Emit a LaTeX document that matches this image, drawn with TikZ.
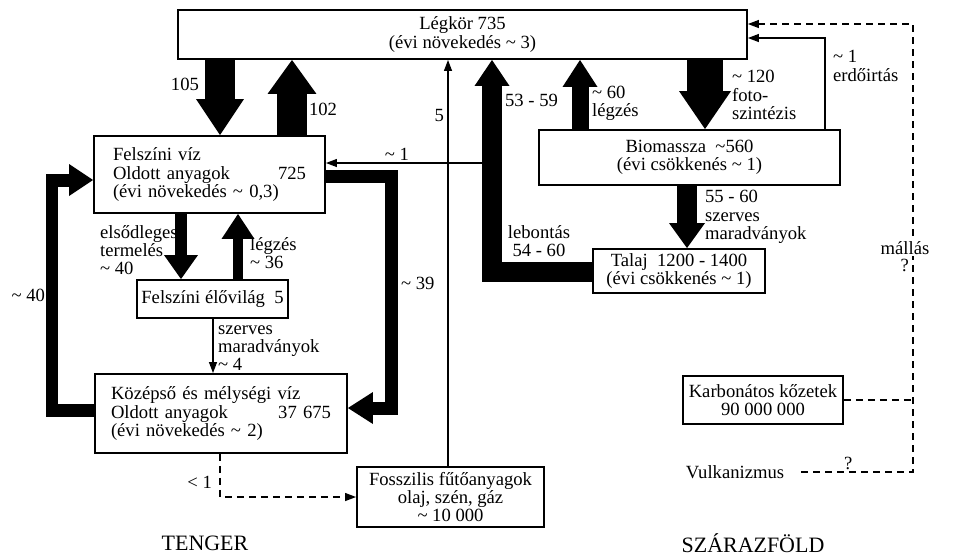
\documentclass[tikz,border=0pt]{standalone}
\usepackage{fontspec}
\setmainfont{Liberation Serif}
\usetikzlibrary{arrows.meta,positioning,calc}

\begin{document}
\begin{tikzpicture}[
  x=0.02cm, y=-0.02cm,
  font=\fontsize{10.6}{10.4}\selectfont,
  box/.style={draw, rectangle, line width=1.1pt, inner sep=0pt, align=center},
  flow/.style n args={3}{line width=#1, line join=miter,
              -{Triangle[width=#2, length=#3, line width=0pt]}},
  link/.style={line width=0.7pt, -{Triangle[length=0.22cm, width=0.16cm]}},
  dashlink/.style={link, dash pattern=on 0.14cm off 0.1cm},
  dashline/.style={line width=0.7pt, dash pattern=on 0.14cm off 0.1cm},
  lbl/.style={inner sep=1pt, align=left},
  region/.style={font=\fontsize{12.5}{13}\selectfont}
]
\useasboundingbox (0,0) rectangle (953,556);

% Reservoirs
\node[box, minimum width=11.38cm, minimum height=0.98cm] (atm) at (462.5,34.5)
  {Légkör 735\\(évi növekedés \textasciitilde{} 3)};
\node[box, minimum width=4.62cm, minimum height=1.54cm, text width=3.86cm, align=left] (surf) at (209.5,174.5)
  {Felszíni víz\\Oldott anyagok\hfill 725\\(évi növekedés \textasciitilde{} 0,3)};
\node[box, minimum width=3.02cm, minimum height=0.76cm] (biota) at (212.5,299)
  {Felszíni élővilág\ \ 5};
\node[box, minimum width=5.04cm, minimum height=1.58cm, text width=4.4cm, align=left] (deep) at (221,413.5)
  {Középső és mélységi víz\\Oldott anyagok\hfill 37 675\\(évi növekedés \textasciitilde{} 2)};
\node[box, minimum width=3.74cm, minimum height=1.2cm] (fossil) at (450.5,497)
  {Fosszilis fűtőanyagok\\olaj, szén, gáz\\\textasciitilde{} 10 000};
\node[box, minimum width=6.02cm, minimum height=1.1cm] (bio) at (689.5,157.5)
  {Biomassza\ \ \textasciitilde560\\(évi csökkenés \textasciitilde{} 1)};
\node[box, minimum width=3.44cm, minimum height=0.88cm] (soil) at (679,271)
  {Talaj\ \ 1200 - 1400\\(évi csökkenés \textasciitilde{} 1)};
\node[box, minimum width=3.2cm, minimum height=0.96cm] (carb) at (763,400)
  {Karbonátos kőzetek\\90 000 000};
\node[inner sep=1pt] (vulk) at (735,472) {Vulkanizmus};

% Ocean fluxes
\draw[flow={0.6cm}{0.96cm}{0.72cm}] (atm.south -| 220,0) -- (surf.north -| 220,0);
\draw[flow={0.6cm}{0.98cm}{0.68cm}] (surf.north -| 292,0) -- (atm.south -| 292,0);
\draw[flow={0.24cm}{0.68cm}{0.48cm}] (surf.south -| 181,0) -- (biota.north -| 181,0);
\draw[flow={0.2cm}{0.66cm}{0.5cm}] (biota.north -| 238,0) -- (surf.south -| 238,0);
\draw[flow={0.26cm}{0.64cm}{0.48cm}] (0,410 -| deep.west) -| (52,180) -- (0,180 -| surf.west);
\draw[flow={0.26cm}{0.64cm}{0.5cm}] (0,176 -| surf.east) -| (391,408) -- (0,408 -| deep.east);
\draw[link] (biota.south -| 213,0) -- (deep.north -| 213,0);
\draw[dashlink] (deep.south -| 220,0) |- (fossil.west);
\draw[link] (fossil.north -| 448,0) -- (atm.south -| 448,0);

% Land fluxes
\draw[flow={0.4cm}{0.7cm}{0.52cm}] (0,272 -| soil.west) -| (atm.south -| 492,0);
\draw[flow={0.34cm}{0.7cm}{0.54cm}] (bio.north -| 580,0) -- (atm.south -| 580,0);
\draw[flow={0.72cm}{1.04cm}{0.76cm}] (atm.south -| 705,0) -- (bio.north -| 705,0);
\draw[flow={0.4cm}{0.72cm}{0.5cm}] (bio.south -| 687,0) -- (soil.north -| 687,0);
\coordinate (runoff) at (483,163);
\draw[link] (runoff) -- (runoff -| surf.east);
\draw[link] (bio.north -| 825,0) |- (0,38 -| atm.east);

% Weathering and volcanism
\draw[dashline] (carb.east) -- (carb.east -| 913,0);
\draw[dashlink] ([xshift=0.3cm]vulk.east) -| node[pos=0.21, above, inner sep=1pt] {?}
  node[pos=0.73, left, inner sep=2pt] {?}
  node[pos=0.75, fill=white, inner sep=1pt, xshift=-0.16cm] {mállás} (913,24) -- (0,24 -| atm.east);

% Flux labels
\node[lbl, anchor=east] (l105) at (201,84) {105};
\node[lbl, anchor=west] (l102) at (307,109) {102};
\node[lbl, anchor=east] (l40) at (47,295) {\textasciitilde{} 40};
\node[lbl, anchor=west] (l39) at (399,283) {\textasciitilde{} 39};
\node[lbl, anchor=west] (lprod) at (98,250) {elsődleges\\termelés\\\textasciitilde{} 40};
\node[lbl, anchor=west] (lresp) at (248,253) {légzés\\\textasciitilde{} 36};
\node[lbl, anchor=west] (ldet) at (216,348) {szerves\\maradványok\\\textasciitilde{} 4};
\node[lbl, anchor=east] (lbur) at (214,482) {\textless{} 1};
\node[lbl, anchor=east] (l5) at (446,115) {5};
\node[lbl, anchor=south] (lrun) at (397,163) {\textasciitilde{} 1};
\node[lbl, anchor=west] (l5359) at (503,100) {53 - 59};
\node[lbl, align=center] (ldecomp) at (539,241) {lebontás\\54 - 60};
\node[lbl, anchor=west] (l60) at (590,103) {\textasciitilde{} 60\\légzés};
\node[lbl, anchor=west] (l120) at (730,95) {\textasciitilde{} 120\\foto-\\szintézis};
\node[lbl, anchor=west] (ldef) at (831,66) {\textasciitilde{} 1\\erdőirtás};
\node[lbl, anchor=west] (l5560) at (703,217) {55 - 60\\szerves\\maradványok};

% Regions
\node[region] (sea) at (205,543) {TENGER};
\node[region] (land) at (753,543) {SZÁRAZFÖLD};

\end{tikzpicture}
\end{document}
